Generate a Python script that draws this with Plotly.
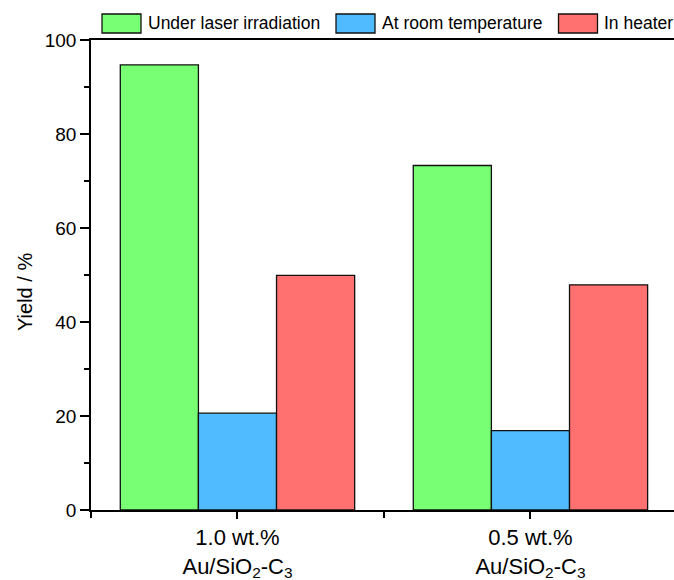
import plotly.graph_objects as go

# ---- data ----
categories = ["1.0 wt.%<br>Au/SiO<sub>2</sub>-C<sub>3</sub>", "0.5 wt.%<br>Au/SiO<sub>2</sub>-C<sub>3</sub>"]
cat_pos = [0, 1]
series_names = ["Under laser irradiation", "At room temperature", "In heater"]
laser = [94.7, 73.3]
room = [20.6, 16.9]
heater = [49.9, 47.9]
y_ticks = [0, 20, 40, 60, 80, 100]
y_title = "Yield / %"

colors = ["#78FF73", "#50BCFF", "#FF7070"]
FONT = "Liberation Sans, Arial, sans-serif"

W, H = 674, 580
ML, MR, MT, MB = 91, 0, 40, 70
PW, PH = W - ML - MR, H - MT - MB

fig = go.Figure()
for name, vals, col in zip(series_names, [laser, room, heater], colors):
    fig.add_trace(go.Bar(
        x=cat_pos, y=vals, name=name,
        marker=dict(color=col, line=dict(color="#111111", width=1.3)),
        showlegend=False,
    ))

# manual legend (wide rectangular swatches like the reference); positions in page pixels
def px_x(p):
    return (p - ML) / PW

def px_y(p):
    return (H - MB - p) / PH

legend_swatch_left = [102, 336, 558.5]
sw_w, sw_top, sw_bot = 39, 14, 33
shapes = []
annotations = []
for name, col, xl in zip(series_names, colors, legend_swatch_left):
    shapes.append(dict(type="rect", xref="paper", yref="paper",
                       x0=px_x(xl), x1=px_x(xl + sw_w), y0=px_y(sw_bot), y1=px_y(sw_top),
                       fillcolor=col, line=dict(color="#111111", width=1.3)))
    annotations.append(dict(xref="paper", yref="paper", x=px_x(xl + sw_w + 4.5), y=px_y((sw_top + sw_bot) / 2),
                            text=name, showarrow=False, xanchor="left", yanchor="middle",
                            font=dict(family=FONT, size=17.5, color="#000000")))

# y-axis title (placed as rotated annotation to match the reference position)
annotations.append(dict(xref="paper", yref="paper", x=px_x(25), y=px_y(292), text=y_title,
                        textangle=-90, showarrow=False, xanchor="center", yanchor="middle",
                        font=dict(family=FONT, size=20, color="#000000")))

fig.update_layout(
    width=W, height=H,
    margin=dict(l=ML, r=MR, t=MT, b=MB, autoexpand=False),
    paper_bgcolor="white", plot_bgcolor="white",
    barmode="group", bargap=0.2, bargroupgap=0,
    font=dict(family=FONT, color="#000000"),
    shapes=shapes, annotations=annotations,
    showlegend=False,
)

fig.update_xaxes(
    range=[-0.5, 1.49], tickmode="array", tickvals=cat_pos, ticktext=categories,
    showline=True, linecolor="#000000", linewidth=1.6, mirror=True,
    ticks="outside", ticklen=7, tickwidth=1.5, tickcolor="#000000",
    minor=dict(tickmode="array", tickvals=[-0.5, 0.5, 1.5], ticks="outside", ticklen=6,
               tickwidth=1.5, tickcolor="#000000"),
    showgrid=False, zeroline=False,
    tickfont=dict(family=FONT, size=22, color="#000000"),
)
fig.update_yaxes(
    range=[0, 100], tickmode="array", tickvals=y_ticks,
    showline=True, linecolor="#000000", linewidth=1.6, mirror=False,
    ticks="outside", ticklen=9, tickwidth=1.5, tickcolor="#000000",
    minor=dict(tickmode="array", tickvals=[10, 30, 50, 70, 90], ticks="outside", ticklen=5,
               tickwidth=1.5, tickcolor="#000000"),
    showgrid=False, zeroline=False,
    tickfont=dict(family=FONT, size=19, color="#000000"),
)

fig.write_html(
    "out.html",
    config={"displayModeBar": False},
    post_script="document.body.style.margin='0';document.body.style.overflow='hidden';",
)
